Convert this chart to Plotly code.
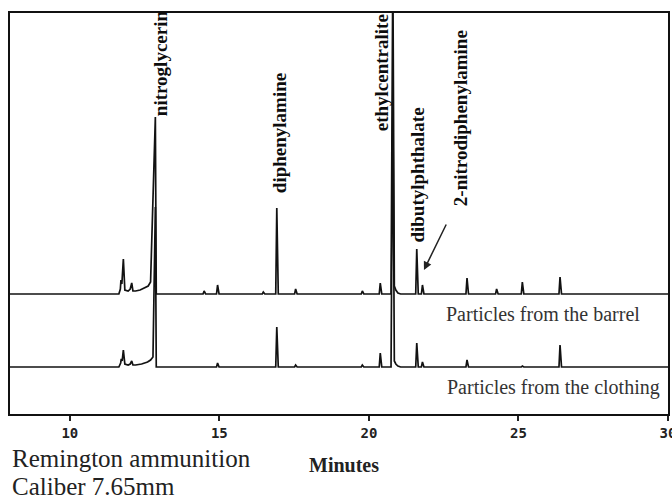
import plotly.graph_objects as go

# Retention-time window (minutes)
x_range = [8, 30]
tick_vals = [10, 15, 20, 25, 30]
tick_text = ["10", "15", "20", "25", "30"]

# Vertical offsets of the two stacked chromatograms (detector units)
offset_barrel = 120
offset_clothing = 47

# Early cluster + nitroglycerin (fronted peak), as traced vertices: time, height
cluster_barrel_t = [11.64, 11.69, 11.71, 11.74, 11.79, 11.84, 11.95, 12.02, 12.07, 12.11,
                    12.20, 12.35, 12.50, 12.62, 12.70, 12.86, 12.89]
cluster_barrel_h = [0, 5, 14, 10, 35, 4, 3, 5, 11, 3, 3, 4, 6, 8, 12, 177, 0]
cluster_clothing_t = [11.64, 11.70, 11.72, 11.75, 11.79, 11.84, 11.95, 12.02, 12.07, 12.11,
                      12.20, 12.40, 12.60, 12.70, 12.78, 12.86, 12.89]
cluster_clothing_h = [0, 4, 8, 6, 17, 3, 2, 3, 6, 2, 2, 3, 5, 7, 10, 160, 0]

# Ethylcentralite peak with its tail
ec_barrel_t = [20.74, 20.80, 20.85, 20.90, 20.97, 21.06]
ec_barrel_h = [0, 330, 8, 4, 1, 0]
ec_clothing_t = [20.74, 20.80, 20.85, 20.90, 20.97, 21.06]
ec_clothing_h = [0, 277, 6, 3, 1, 0]

# Remaining sharp peaks: retention time, height above baseline
peaks_barrel_t = [14.49, 14.94, 16.47, 16.92, 17.55, 19.78, 20.38, 21.60, 21.79,
                  23.28, 24.27, 25.13, 26.39]
peaks_barrel_h = [3, 9, 2, 86, 5, 3, 11, 45, 9, 16, 5, 12, 17]
peaks_clothing_t = [14.94, 16.92, 17.55, 19.78, 20.38, 21.60, 21.79, 23.28, 25.13, 26.39]
peaks_clothing_h = [4, 40, 2, 2, 14, 24, 5, 7, 1, 22]

# Compound labels: text, time, bottom of label (detector units)
label_text = ["nitroglycerin", "diphenylamine", "ethylcentralite",
              "dibutylphthalate", "2-nitrodiphenylamine"]
label_x = [13.02, 17.00, 20.43, 21.61, 23.05]
label_y = [296, 219, 281, 169, 206]


def build_trace(ct, ch, et, eh, pt, ph, offset):
    pts = [(x_range[0], 0.0), (x_range[1], 0.0)]
    pts += list(zip(ct, ch))
    pts += list(zip(et, eh))
    for t, h in zip(pt, ph):
        pts += [(t - 0.035, 0.0), (t, h), (t + 0.05, 0.0)]
    pts.sort(key=lambda p: p[0])
    return [p[0] for p in pts], [p[1] + offset for p in pts]


bx, by = build_trace(cluster_barrel_t, cluster_barrel_h, ec_barrel_t, ec_barrel_h,
                     peaks_barrel_t, peaks_barrel_h, offset_barrel)
cx, cy = build_trace(cluster_clothing_t, cluster_clothing_h, ec_clothing_t, ec_clothing_h,
                     peaks_clothing_t, peaks_clothing_h, offset_clothing)

line_color = "#121212"
fig = go.Figure()
fig.add_trace(go.Scatter(x=bx, y=by, mode="lines", line=dict(color=line_color, width=1.7),
                         name="barrel", showlegend=False))
fig.add_trace(go.Scatter(x=cx, y=cy, mode="lines", line=dict(color=line_color, width=1.7),
                         name="clothing", showlegend=False))

serif = "Liberation Serif, Times New Roman, serif"
annotations = []
for txt, x, y in zip(label_text, label_x, label_y):
    annotations.append(dict(x=x, y=y, xref="x", yref="y", text="<b>%s</b>" % txt,
                            textangle=-90, showarrow=False, xanchor="center",
                            yanchor="bottom", font=dict(family=serif, size=19, color="#0d0d0d")))

# Arrow pointing at the 2-nitrodiphenylamine peak
annotations.append(dict(x=21.84, y=144, xref="x", yref="y", ax=23, ay=-47, text="",
                        showarrow=True, arrowhead=2, arrowsize=1.1, arrowwidth=1.5,
                        arrowcolor="#222"))

annotations.append(dict(x=25.81, y=100, xref="x", yref="y", text="Particles from the barrel",
                        showarrow=False, font=dict(family=serif, size=20, color="#333")))
annotations.append(dict(x=26.16, y=27, xref="x", yref="y", text="Particles from the clothing",
                        showarrow=False, font=dict(family=serif, size=20, color="#333")))

annotations.append(dict(x=0, y=-0.1122, xref="paper", yref="paper", text="Remington ammunition",
                        showarrow=False, xanchor="left", yanchor="middle",
                        font=dict(family=serif, size=25, color="#222")))
annotations.append(dict(x=0, y=-0.182, xref="paper", yref="paper", text="Caliber 7.65mm",
                        showarrow=False, xanchor="left", yanchor="middle",
                        font=dict(family=serif, size=25, color="#222")))
annotations.append(dict(x=0.507, y=-0.127, xref="paper", yref="paper", text="<b>Minutes</b>",
                        showarrow=False, xanchor="center", yanchor="middle",
                        font=dict(family=serif, size=20, color="#222")))

fig.update_layout(
    width=672, height=501,
    margin=dict(l=10, r=4, t=13, b=87),
    paper_bgcolor="white", plot_bgcolor="white",
    annotations=annotations,
    xaxis=dict(range=x_range, tickvals=tick_vals,
               ticktext=["<b>%s</b>" % t for t in tick_text],
               showline=True, linecolor="#111", linewidth=2, mirror=True,
               ticks="outside", ticklen=5, tickwidth=2, tickcolor="#222",
               ticklabeloverflow="allow", automargin=False,
               showgrid=False, zeroline=False,
               tickfont=dict(family="DejaVu Sans Mono", size=14, color="#222"),
               fixedrange=True),
    yaxis=dict(range=[0, 401], showline=True, linecolor="#111", linewidth=2, mirror=True,
               showticklabels=False, ticks="", showgrid=False, zeroline=False,
               automargin=False, fixedrange=True),
)

fig.write_html("out.html")
